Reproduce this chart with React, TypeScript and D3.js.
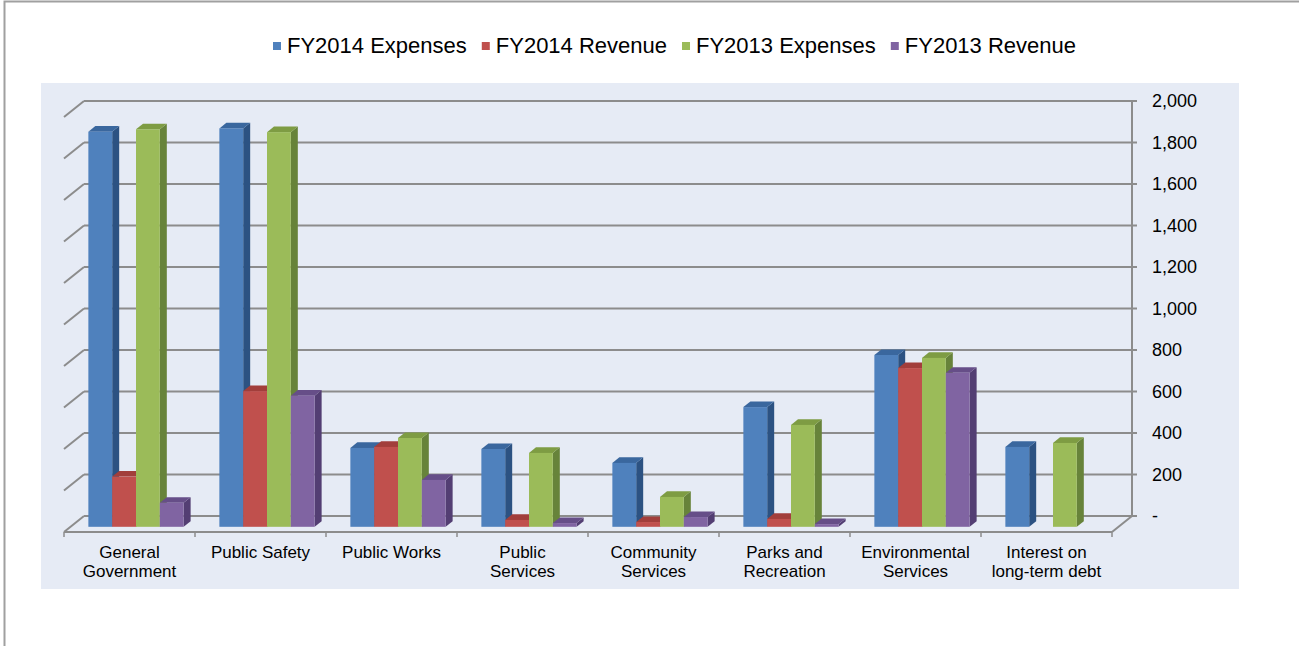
import React from 'react';
import * as d3 from 'd3';

const categories = [
  'General Government', 'Public Safety', 'Public Works', 'Public Services',
  'Community Services', 'Parks and Recreation', 'Environmental Services', 'Interest on long-term debt'
];
const categoryLines = [
  ['General', 'Government'], ['Public Safety'], ['Public Works'], ['Public', 'Services'],
  ['Community', 'Services'], ['Parks and', 'Recreation'], ['Environmental', 'Services'], ['Interest on', 'long-term debt']
];
const seriesNames = ['FY2014 Expenses', 'FY2014 Revenue', 'FY2013 Expenses', 'FY2013 Revenue'];
const fy2014Expenses = [1904, 1920, 380, 375, 308, 577, 828, 385];
const fy2014Revenue = [242, 654, 385, 33, 23, 38, 765, 0];
const fy2013Expenses = [1916, 1902, 428, 356, 144, 491, 814, 404];
const fy2013Revenue = [116, 632, 226, 18, 47, 13, 742, 0];
const yTicks = [0, 200, 400, 600, 800, 1000, 1200, 1400, 1600, 1800, 2000];

const seriesValues = [fy2014Expenses, fy2014Revenue, fy2013Expenses, fy2013Revenue];
// front, side, top
const palette = [
  ['#4f81bd', '#2c5282', '#3a679e'],
  ['#c0504d', '#8a2f2d', '#a23e3b'],
  ['#9bbb59', '#67833a', '#7e9c43'],
  ['#8064a2', '#533e73', '#664e88'],
];

const W = 1299;
const H = 646;
const FONT = '"Liberation Sans", Arial, sans-serif';

// depth of the 3D box
const DX = 20;
const DY = 16;
const floorY = 532;

const measure = (() => {
  let ctx: CanvasRenderingContext2D | null = null;
  return (txt: string, font: string) => {
    if (!ctx) ctx = document.createElement('canvas').getContext('2d');
    if (!ctx) return txt.length * 11;
    ctx.font = font;
    return ctx.measureText(txt).width;
  };
})();

const App = () => {
  const x = d3.scaleBand<string>().domain(categories).range([64, 1112]).padding(0);
  const y = d3.scaleLinear().domain([0, 2000]).range([floorY, 117]);
  const barW = x.bandwidth() / (seriesNames.length + 1.5);
  const fFront = 0.325;
  const fDepth = 0.35;
  const bdx = DX * fDepth;
  const bdy = DY * fDepth;

  const bars: React.ReactNode[] = [];
  categories.forEach((c, ci) => {
    seriesValues.forEach((vals, si) => {
      const v = vals[ci];
      if (!v) return;
      const x0 = (x(c) ?? 0) + barW * 0.75 + si * barW + DX * fFront;
      const x1 = x0 + barW;
      const base = y(0) - DY * fFront;
      const top = y(v) - DY * fFront;
      const [front, side, topC] = palette[si];
      bars.push(
        <g key={`${ci}-${si}`}>
          <polygon points={`${x1},${top} ${x1 + bdx},${top - bdy} ${x1 + bdx},${base - bdy} ${x1},${base}`} fill={side} />
          <polygon points={`${x0},${top} ${x0 + bdx},${top - bdy} ${x1 + bdx},${top - bdy} ${x1},${top}`} fill={topC} />
          <rect x={x0} y={top} width={barW} height={base - top} fill={front} />
        </g>
      );
    });
  });

  // legend layout
  const legendFont = `22px ${FONT}`;
  let lx = 273;
  const legendItems = seriesNames.map((n, i) => {
    const item = { name: n, x: lx, color: palette[i][0] };
    lx += 14 + measure(n, legendFont) + 15;
    return item;
  });

  const gridColor = '#8c8c8c';

  return (
    <svg width={W} height={H} style={{ position: 'absolute', left: 0, top: 0 }} fontFamily={FONT}>
      <rect x={0} y={0} width={W} height={H} fill="#ffffff" />
      <rect x={4.5} y={1.5} width={W + 20} height={H + 20} fill="#ffffff" stroke="#a0a0a0" strokeWidth={2} />
      <rect x={41} y={83} width={1198} height={506} fill="#e6ebf5" />

      {/* legend */}
      {legendItems.map(it => (
        <g key={it.name}>
          <rect x={it.x} y={42} width={8} height={8} fill={it.color} />
          <text x={it.x + 14} y={53} fontSize={22} fill="#000">{it.name}</text>
        </g>
      ))}

      {/* walls and gridlines */}
      {yTicks.map(t => (
        <g key={t} stroke={gridColor} strokeWidth={2} fill="none">
          <line x1={64} y1={y(t)} x2={64 + DX} y2={y(t) - DY} />
          <line x1={64 + DX} y1={y(t) - DY} x2={1112 + DX} y2={y(t) - DY} />
          <line x1={1112 + DX} y1={y(t) - DY} x2={1112 + DX + 5} y2={y(t) - DY} />
        </g>
      ))}
      <line x1={1112 + DX} y1={y(2000) - DY} x2={1112 + DX} y2={y(0) - DY} stroke={gridColor} strokeWidth={2} />
      <line x1={64} y1={floorY} x2={1112} y2={floorY} stroke={gridColor} strokeWidth={2} />
      <line x1={1112} y1={floorY} x2={1112 + DX} y2={floorY - DY} stroke={gridColor} strokeWidth={2} />
      {d3.range(categories.length + 1).map(i => {
        const xx = 64 + i * x.step();
        return <line key={i} x1={xx} y1={floorY} x2={xx} y2={floorY + 5} stroke={gridColor} strokeWidth={1.5} />;
      })}

      {bars}

      {/* right axis labels */}
      {yTicks.map(t => (
        <text key={t} x={1152} y={y(t) - DY} dy="0.36em" fontSize={18} fill="#000">
          {t === 0 ? '-' : d3.format(',')(t)}
        </text>
      ))}

      {/* category labels */}
      {categories.map((c, i) => (
        <text key={c} x={(x(c) ?? 0) + x.bandwidth() / 2} y={558} fontSize={17} textAnchor="middle" fill="#000">
          {categoryLines[i].map((l, li) => (
            <tspan key={li} x={(x(c) ?? 0) + x.bandwidth() / 2} dy={li === 0 ? 0 : 19}>{l}</tspan>
          ))}
        </text>
      ))}
    </svg>
  );
};

export default App;
